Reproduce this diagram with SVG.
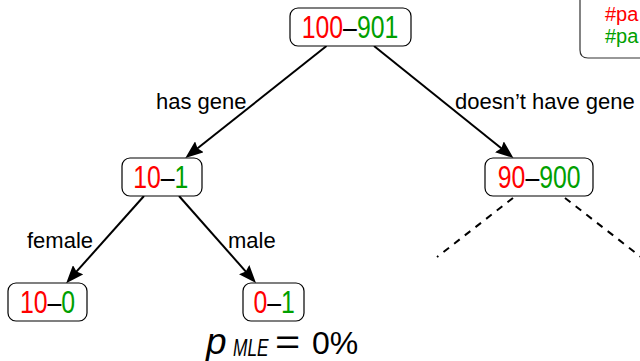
<svg xmlns="http://www.w3.org/2000/svg" width="640" height="361" viewBox="0 0 640 361">
  <style>
    .box { fill: #ffffff; stroke: #000000; stroke-width: 1.2; }
    .num { font-family: "Liberation Sans", Arial, sans-serif; font-size: 31px; text-anchor: middle; fill: #000000; }
    .lbl { font-family: "Liberation Sans", Arial, sans-serif; font-size: 22px; fill: #000000; }
    .key { font-family: "Liberation Sans", Arial, sans-serif; font-size: 20px; }
    .pos { fill: #ff0000; }
    .neg { fill: #00a000; }
    .edge { stroke: #000000; stroke-width: 2; fill: none; marker-end: url(#head); }
    .dash { stroke: #000000; stroke-width: 2; fill: none; stroke-dasharray: 7 6.5; }
    .math { font-family: "Liberation Sans", Arial, sans-serif; fill: #000000; }
  </style>
  <defs>
    <marker id="head" viewBox="0 0 18 14" refX="10" refY="7" markerWidth="18" markerHeight="14" markerUnits="userSpaceOnUse" orient="auto">
      <path d="M0,0 L18,7 L0,14 L2.5,7 Z" fill="#000000"/>
    </marker>
  </defs>

  <!-- legend box, partly off the right edge -->
  <g id="legend">
    <path d="M580,-10 L580,50 Q580,58 588,58 L660,58" fill="#ffffff" stroke="#333333" stroke-width="1.2"/>
    <text x="605" y="21" class="key pos">#pa</text>
    <text x="605" y="43" class="key neg">#pa</text>
  </g>

  <!-- connectors -->
  <g id="connectors">
    <line class="edge" x1="326.5" y1="46" x2="191.6" y2="153"/>
    <line class="edge" x1="374" y1="46" x2="507.2" y2="153"/>
    <line class="edge" x1="144" y1="196" x2="71.5" y2="277.2"/>
    <line class="edge" x1="179" y1="196" x2="250.7" y2="277.1"/>
    <line class="dash" x1="513" y1="198" x2="437" y2="257"/>
    <line class="dash" x1="565" y1="198" x2="641" y2="257"/>
    <text class="lbl" x="156" y="109">has gene</text>
    <text class="lbl" x="455" y="108.5">doesn’t have gene</text>
    <text class="lbl" x="27" y="248">female</text>
    <text class="lbl" x="228" y="248">male</text>
  </g>

  <!-- tree nodes: count pairs, narrowed horizontally -->
  <g id="root">
    <rect class="box" x="290" y="8" width="121" height="38" rx="8"/>
    <text class="num" transform="translate(350,37.8) scale(0.8,1)"><tspan class="pos">100</tspan>–<tspan class="neg">901</tspan></text>
  </g>
  <g id="has-gene">
    <rect class="box" x="122" y="158" width="80" height="38" rx="8"/>
    <text class="num" transform="translate(160.8,187.8) scale(0.8,1)"><tspan class="pos">10</tspan>–<tspan class="neg">1</tspan></text>
  </g>
  <g id="no-gene">
    <rect class="box" x="485" y="158" width="108" height="38" rx="8"/>
    <text class="num" transform="translate(539.2,188) scale(0.8,1)"><tspan class="pos">90</tspan>–<tspan class="neg">900</tspan></text>
  </g>
  <g id="female">
    <rect class="box" x="8" y="283" width="79" height="38" rx="8"/>
    <text class="num" transform="translate(47.5,312.8) scale(0.8,1)"><tspan class="pos">10</tspan>–<tspan class="neg">0</tspan></text>
  </g>
  <g id="male">
    <rect class="box" x="243" y="283" width="61" height="38" rx="8"/>
    <text class="num" transform="translate(274.2,312.8) scale(0.8,1)"><tspan class="pos">0</tspan>–<tspan class="neg">1</tspan></text>
  </g>

  <!-- maximum-likelihood estimate -->
  <g id="estimate">
    <text class="math" x="206" y="354" font-size="37" font-style="italic">p</text>
    <text class="math" transform="translate(233,356) scale(0.72,1)" font-size="24" font-style="italic">MLE</text>
    <text class="math" transform="translate(275,354) scale(1.2,1)" font-size="36">=</text>
    <text class="math" x="312" y="354" font-size="32">0%</text>
  </g>
</svg>
